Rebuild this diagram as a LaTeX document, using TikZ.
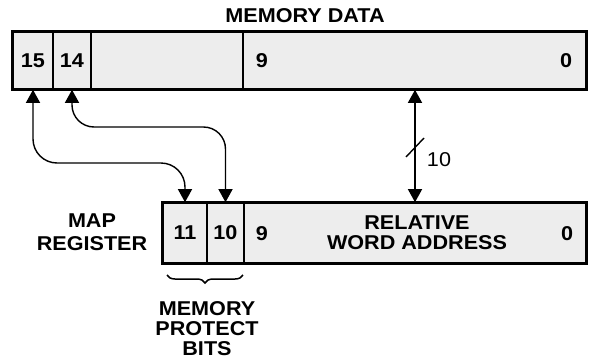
\documentclass[tikz,border=0pt]{standalone}
\usepackage{fontspec}
\setmainfont{Liberation Sans}
\newfontfamily\labfont[FakeStretch=1.08]{Liberation Sans}
\usetikzlibrary{arrows.meta,decorations.pathreplacing,calc}
\tikzset{
  field/.style={rectangle, draw, line width=1.6pt, fill=black!7, inner sep=0pt, font=\labfont\bfseries\fontsize{20}{22}\selectfont},
  lab/.style={inner sep=0pt, align=center, font=\labfont\bfseries\fontsize{20}{22}\selectfont},
  outer/.style={line width=2.8pt},
  conn/.style={line width=1.4pt, {Triangle[length=13pt,width=14pt]}-{Triangle[length=13pt,width=14pt]}},
}
\begin{document}
\begin{tikzpicture}[x=1pt,y=-1pt]
\useasboundingbox (0,0) rectangle (589,362);
% title
\node[lab] (title) at (305,16) {MEMORY DATA};
% top register
\node[field, minimum width=40pt, minimum height=57pt] (t15) at (33,60.5) {15};
\node[field, minimum width=38pt, minimum height=57pt] (t14) at (72,60.5) {14};
\node[field, minimum width=152pt, minimum height=57pt] (tmid) at (167,60.5) {};
\node[field, minimum width=343pt, minimum height=57pt] (tlow) at (414.5,60.5) {};
\node[lab] (t9) at (262,61) {9};
\node[lab] (t0) at (566,61) {0};
\draw[outer] (t15.north west) rectangle (tlow.south east);
% bottom register
\node[field, minimum width=44pt, minimum height=60pt] (b11) at (185,233) {11};
\node[field, minimum width=37pt, minimum height=60pt] (b10) at (225.5,233) {10};
\node[field, minimum width=342pt, minimum height=60pt] (blow) at (415,233) {};
\node[lab] (b9) at (262,234) {9};
\node[lab] (b0) at (567,234) {0};
\node[lab, font=\labfont\bfseries\fontsize{20}{20}\selectfont] (rwa) at (417,233) {RELATIVE\\WORD ADDRESS};
\draw[outer] (b11.north west) rectangle (blow.south east);
\node[lab, font=\labfont\bfseries\fontsize{20}{23}\selectfont] (map) at (92,232) {MAP\\REGISTER};
% connectors
\draw[conn, rounded corners=24pt] (t15.south) |- (110,163) -| (b11.north);
\draw[conn, rounded corners=22pt] (t14.south) |- (150,127) -| (b10.north);
\coordinate (ax) at (415,0);
\draw[conn] (tlow.south -| ax) -- (blow.north -| ax);
\coordinate (s1) at (406,157);
\coordinate (s2) at (424,138);
\draw[line width=1.4pt] (s1) -- (s2);
\node[inner sep=0pt, font=\labfont\fontsize{20}{22}\selectfont] (w10) at (439,160) {10};
% brace
\coordinate (br1) at (167,275);
\coordinate (br2) at (243,275);
\draw[line width=1.5pt, decorate, decoration={brace, mirror, amplitude=8pt}] (br1) -- (br2);
\node[lab, font=\labfont\bfseries\fontsize{20}{20}\selectfont] (mpb) at (207,329) {MEMORY\\PROTECT\\BITS};
\end{tikzpicture}
\end{document}
